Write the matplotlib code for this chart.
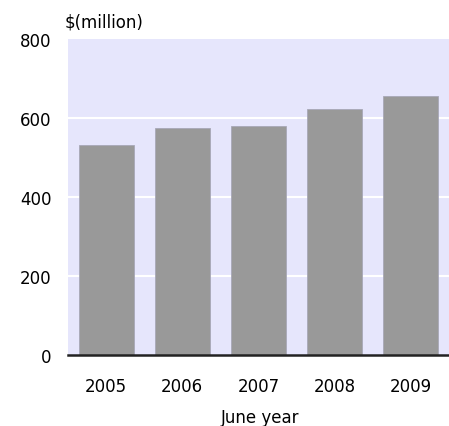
import matplotlib
matplotlib.use("Agg")
import matplotlib.pyplot as plt

plt.rcParams["font.family"] = ["DejaVu Sans"]

years = ["2005", "2006", "2007", "2008", "2009"]
values = [532, 574, 579, 624, 655]
yticks = [0, 200, 400, 600, 800]

fs = 12
fig = plt.figure(figsize=(4.49, 4.27), dpi=100)
ax = fig.add_axes([68/449, 1-356/427, (449-68)/449, (356-40)/427])
ax.set_facecolor("#E6E6FC")
x = list(range(len(years)))
ax.bar(x, values, width=0.72, color="#999999", edgecolor="#A8A8B8", linewidth=0.6, zorder=3)
ax.set_xlim(-0.5, 4.5)
ax.set_ylim(0, 800)
ax.set_yticks(yticks)
ax.set_yticklabels([str(v) for v in yticks], fontsize=fs)
ax.set_xticks(x)
ax.set_xticklabels(years, fontsize=fs)
ax.tick_params(length=0)
ax.tick_params(axis="y", pad=12)
ax.tick_params(axis="x", pad=16)
for v in yticks[1:-1]:
    ax.axhline(v, color="white", linewidth=1.5, zorder=2)
for s in ["top", "right", "left"]:
    ax.spines[s].set_visible(False)
ax.spines["bottom"].set_color("#222222")
ax.spines["bottom"].set_linewidth(1.8)
ax.spines["bottom"].set_zorder(4)
ax.set_xlabel("June year", fontsize=fs, va="center")
ax.xaxis.set_label_coords((260-68)/381, (356-418)/316)
fig.text(65/449, 1-23/427, "$(million)", fontsize=fs, va="center", ha="left")
fig.savefig("out.png", dpi=100)
